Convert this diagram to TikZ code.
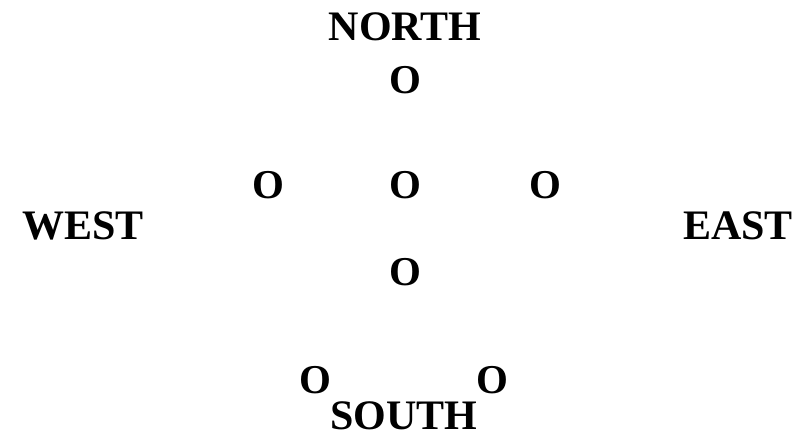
\documentclass[tikz,border=0pt]{standalone}
\usepackage{fontspec}
\setmainfont{Liberation Serif}
\begin{document}
\begin{tikzpicture}[x=1pt,y=-1pt,
  lbl/.style={font=\fontsize{42}{42}\selectfont\bfseries, inner sep=0pt, anchor=center},
  mark0/.style={font=\fontsize{41}{41}\selectfont\bfseries, inner sep=0pt, anchor=center}]
\useasboundingbox[fill=white] (0,0) rectangle (811,439);
\node[lbl] (north) at (405,27) {NORTH};
\node[mark0] (n1) at (405,80) {O};
\node[mark0] (c1) at (268,185) {O};
\node[mark0] (c2) at (405,185) {O};
\node[mark0] (c3) at (545,185) {O};
\node[lbl] (west) at (83,226) {WEST};
\node[lbl] (east) at (738,226) {EAST};
\node[mark0] (s1) at (405,272) {O};
\node[mark0] (s2) at (315,380) {O};
\node[mark0] (s3) at (492,380) {O};
\node[lbl] (south) at (404,416) {SOUTH};
\end{tikzpicture}
\end{document}
